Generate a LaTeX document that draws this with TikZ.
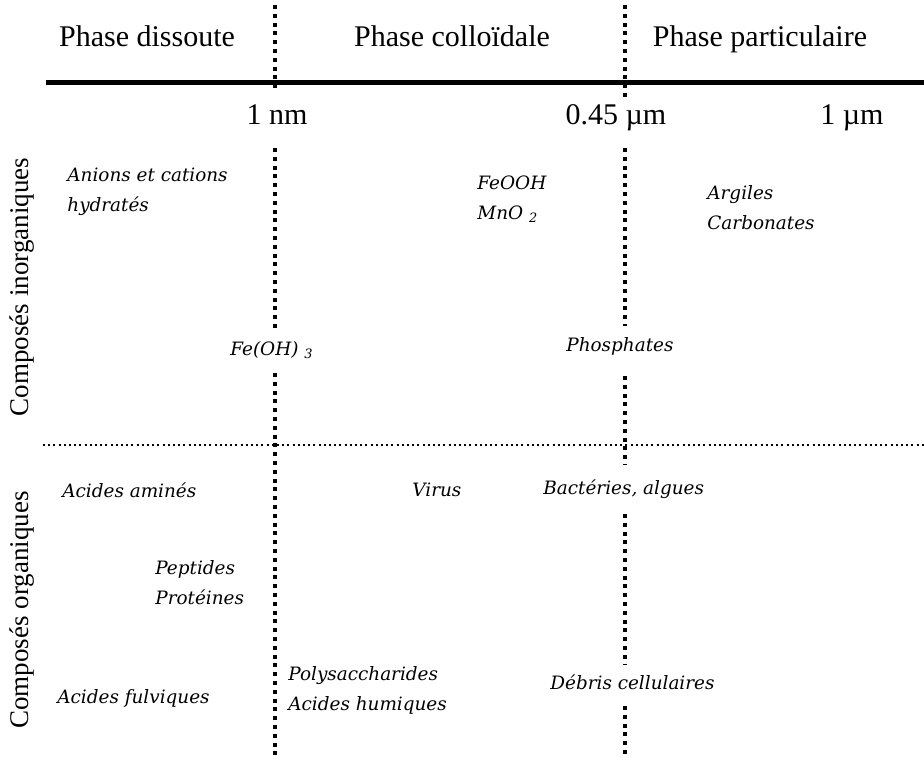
\documentclass[tikz,border=0pt]{standalone}
\usepackage{fontspec}
\setmainfont{Liberation Serif}
\newfontfamily\slabfont{DejaVu Serif}
\usepackage{tikz}
\tikzstyle{phase} = [inner sep=0pt, anchor=base, font=\fontsize{15}{18}\selectfont]
\tikzstyle{sizelabel} = [inner sep=0pt, anchor=base, font=\fontsize{15}{18}\selectfont]
\tikzstyle{groupe} = [inner sep=0pt, rotate=90, font=\fontsize{13.5}{16}\selectfont]
\tikzstyle{species} = [inner sep=0pt, anchor=west, align=left, font=\slabfont\itshape\fontsize{9.2}{15}\selectfont]
\tikzstyle{axis} = [line width=2.5pt]
\tikzstyle{cutline} = [line width=2pt, dash pattern=on 2pt off 2.4pt]
\tikzstyle{rowline} = [line width=1pt, dash pattern=on 1pt off 1.6pt]

\begin{document}
\begin{tikzpicture}[x=0.5pt, y=-0.5pt]
  \useasboundingbox (0,0) rectangle (924,756);
  % phases
  \node (pdiss) [phase] at (147,46) {Phase dissoute};
  \node (pcoll) [phase] at (452,46) {Phase colloïdale};
  \node (ppart) [phase] at (760,46) {Phase particulaire};
  \draw [axis] (46,82) -- (924,82);
  % sizes
  \node (nm) [sizelabel] at (277,124) {1 nm};
  \node (filt) [sizelabel] at (616,124) {0.45 µm};
  \node (um) [sizelabel] at (852,124) {1 µm};
  % groups
  \node (inorg) [groupe] at (22,287) {Composés inorganiques};
  \node (org) [groupe] at (22,610) {Composés organiques};
  \draw [rowline] (43,445) -- (924,445);
  % inorganic species
  \node (ions) [species] at (67,192) {Anions et cations\\hydratés};
  \node (oxy) [species] at (477,199) {FeOOH\\MnO \textsubscript{2}};
  \node (argile) [species] at (707,208) {Argiles\\Carbonates};
  \node (feoh) [species] at (230,350) {Fe(OH) \textsubscript{3}};
  \node (phos) [species] at (566,346) {Phosphates};
  % organic species
  \node (amine) [species] at (62,490) {Acides aminés};
  \node (virus) [species] at (412,490) {Virus};
  \node (bact) [species] at (543,489) {Bactéries, algues};
  \node (pept) [species] at (155,583) {Peptides\\Protéines};
  \node (fulv) [species] at (57,698) {Acides fulviques};
  \node (poly) [species] at (288,690) {Polysaccharides\\Acides humiques};
  \node (debris) [species] at (550,682) {Débris cellulaires};
  % cut-offs
  \draw [cutline] (275,5) -- (275,90);
  \draw [cutline] (275,148) -- (275,328);
  \draw [cutline] (275,373) -- (275,756);
  \draw [cutline] (625,5) -- (625,100);
  \draw [cutline] (625,148) -- (625,326);
  \draw [cutline] (625,376) -- (625,465);
  \draw [cutline] (625,514) -- (625,664);
  \draw [cutline] (625,706) -- (625,756);
\end{tikzpicture}
\end{document}
